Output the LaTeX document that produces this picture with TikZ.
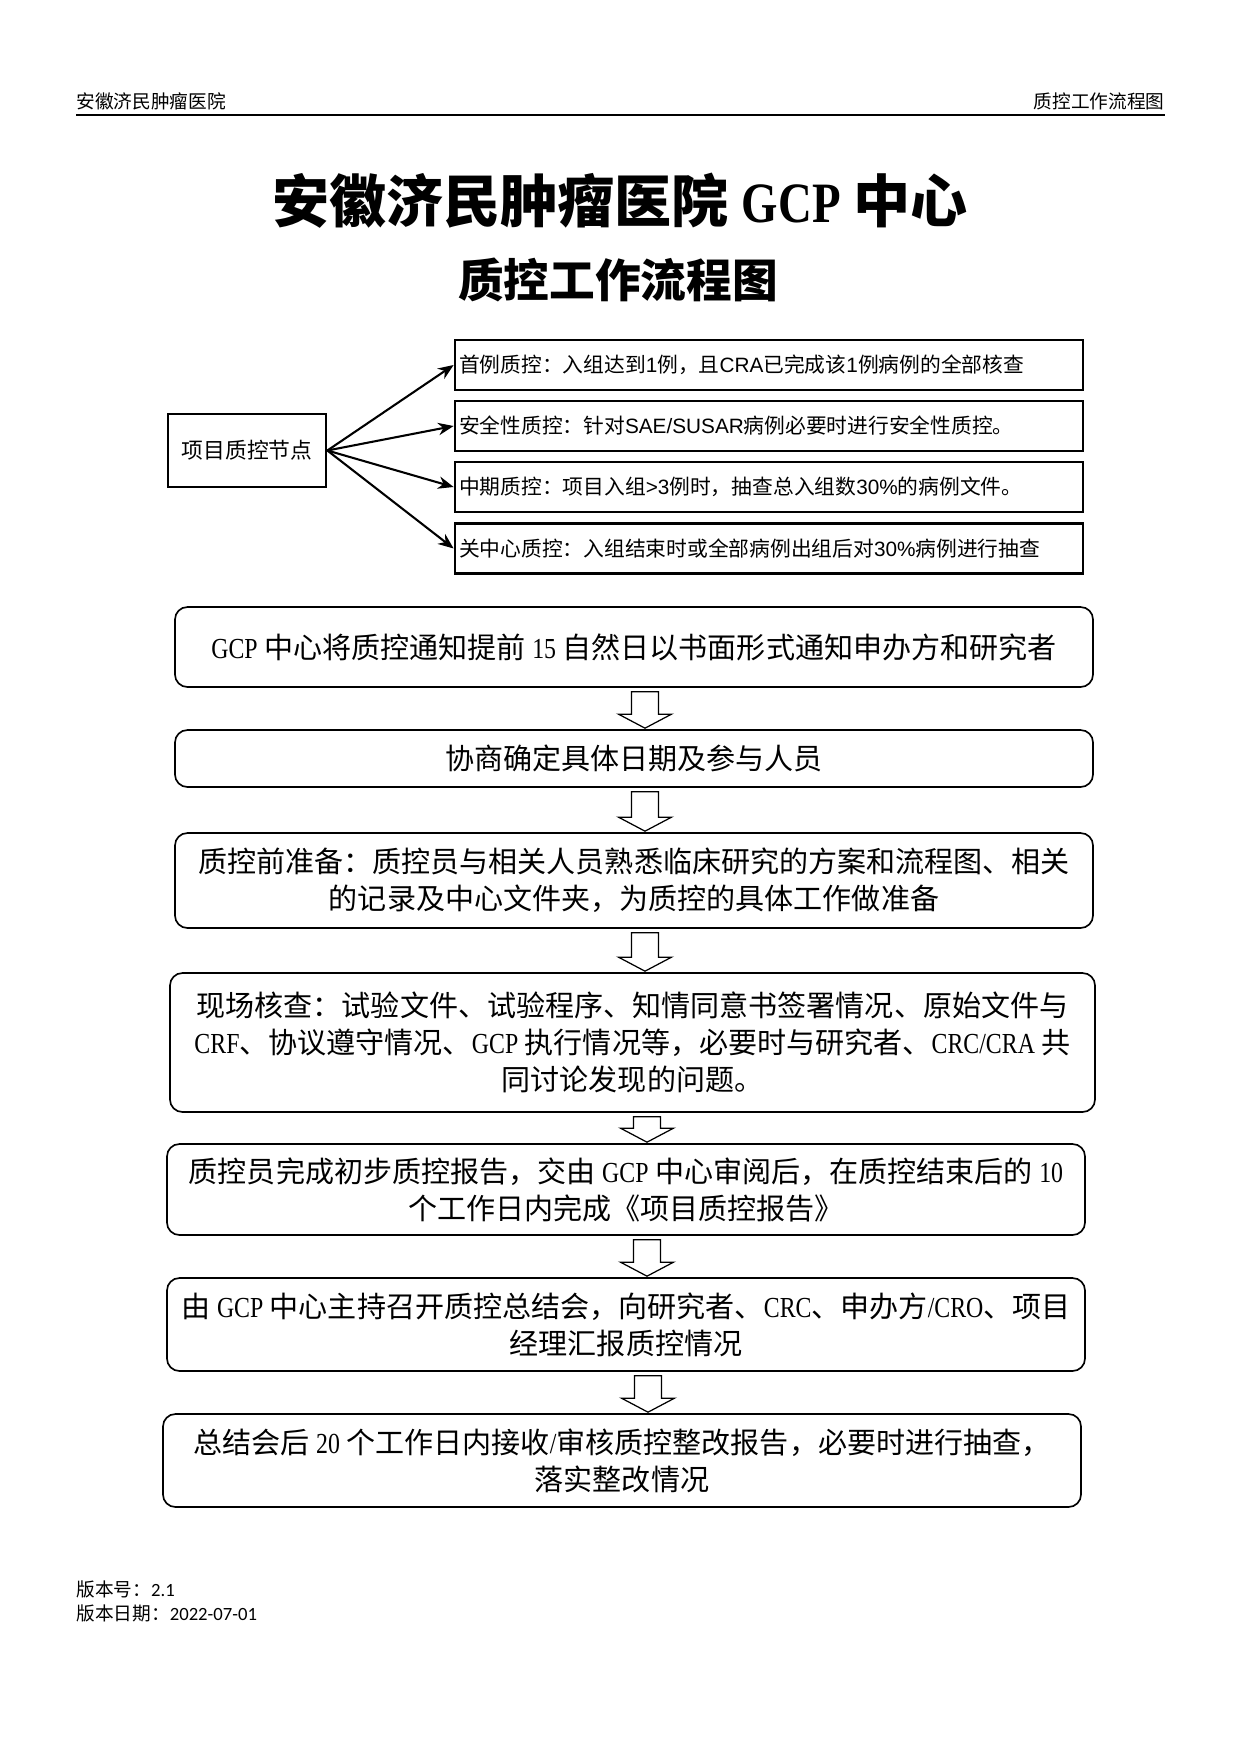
\documentclass[tikz,border=0pt]{standalone}
\usepackage{fontspec}
\setmainfont{Noto Sans CJK SC}
\newfontfamily\serifL[FakeStretch=0.82]{Liberation Serif}
\newfontfamily\sansL{Liberation Sans}
\newfontfamily\calibL{Carlito}
\usetikzlibrary{arrows.meta,calc}
\newcommand\rmn[1]{{\serifL #1}}
\newcommand\ssl[1]{{\sansL #1}}
\newcommand\cbl[1]{{\calibL #1}}
\newcommand\harrow[3]{%
  \draw[harr] ($(#1.south -| #3)+(-13.5,4)$) -- ($(#1.south -| #3)+(13.5,4)$)
    -- ($(#2.north -| #3)+(13.5,-15)$) -- ($(#2.north -| #3)+(26.5,-15)$)
    -- ($(#2.north -| #3)+(0,-1)$) -- ($(#2.north -| #3)+(-26.5,-15)$)
    -- ($(#2.north -| #3)+(-13.5,-15)$) -- cycle;}
\begin{document}
\begin{tikzpicture}[x=0.16933mm,y=-0.16933mm,
  hdr/.style={font=\fontsize{9}{11}\selectfont, inner sep=0pt},
  srcbox/.style={draw, line width=1.3pt, minimum width=158*0.16933mm, minimum height=73*0.16933mm,
    inner sep=0pt, font=\fontsize{10.5}{12}\selectfont},
  rbox/.style={draw, line width=1.3pt, minimum width=628*0.16933mm, minimum height=50*0.16933mm,
    text width=620*0.16933mm, align=left, inner xsep=4*0.16933mm, inner ysep=0pt,
    font=\fontsize{10}{12}\selectfont},
  flow/.style={draw, line width=0.8pt, rounded corners=6pt, fill=white, align=center,
    inner sep=0pt, font=\fontsize{14}{17.8}\selectfont},
  fan/.style={line width=1pt, -{Stealth[length=7.5pt,width=6pt]}},
  harr/.style={draw, line width=0.6pt, fill=white, line join=miter}
]
\useasboundingbox (0,0) rectangle (1241,1754);
% header
\node[hdr, anchor=base west] (hl) at (76,108) {安徽济民肿瘤医院};
\node[hdr, anchor=base east] (hr) at (1165,108) {质控工作流程图};
\coordinate (rl) at (76,115);
\coordinate (rr) at (1165,115);
\draw[line width=1pt] (rl) -- (rr);
% titles
\node[font=\fontsize{27.5}{32}\selectfont\bfseries] (title) at (620,201) {安徽济民肿瘤医院 \rmn{GCP} 中心};
\node[font=\fontsize{22}{26}\selectfont\bfseries] (sub) at (618,280) {质控工作流程图};
% fan section
\node[srcbox] (src) at (247,450.5) {项目质控节点};
\node[rbox] (r1) at (769,365) {首例质控：入组达到\ssl{1}例，且\ssl{CRA}已完成该\ssl{1}例病例的全部核查};
\node[rbox] (r2) at (769,426) {安全性质控：针对\ssl{SAE/SUSAR}病例必要时进行安全性质控。};
\node[rbox] (r3) at (769,487) {中期质控：项目入组\ssl{>3}例时，抽查总入组数\ssl{30\%}的病例文件。};
\node[rbox] (r4) at (769,548.5) {关中心质控：入组结束时或全部病例出组后对\ssl{30\%}病例进行抽查};
\foreach \i in {1,...,4} \draw[fan] (src.east) -- (r\i.west);
% flow boxes
\node[flow, minimum width=918*0.16933mm, minimum height=80*0.16933mm] (b1) at (634,647)
  {\rmn{GCP} 中心将质控通知提前 \rmn{15} 自然日以书面形式通知申办方和研究者};
\node[flow, minimum width=918*0.16933mm, minimum height=57*0.16933mm] (b2) at (634,758.5)
  {协商确定具体日期及参与人员};
\node[flow, minimum width=918*0.16933mm, minimum height=95*0.16933mm] (b3) at (634,880.5)
  {质控前准备：质控员与相关人员熟悉临床研究的方案和流程图、相关\\的记录及中心文件夹，为质控的具体工作做准备};
\node[flow, minimum width=925*0.16933mm, minimum height=139*0.16933mm] (b4) at (632.5,1042.5)
  {现场核查：试验文件、试验程序、知情同意书签署情况、原始文件与\\\rmn{CRF}、协议遵守情况、\rmn{GCP} 执行情况等，必要时与研究者、\rmn{CRC/CRA} 共\\同讨论发现的问题。};
\node[flow, minimum width=918*0.16933mm, minimum height=91*0.16933mm] (b5) at (626,1189.5)
  {质控员完成初步质控报告，交由 \rmn{GCP} 中心审阅后，在质控结束后的 \rmn{10}\\个工作日内完成《项目质控报告》};
\node[flow, minimum width=918*0.16933mm, minimum height=93*0.16933mm] (b6) at (626,1324.5)
  {由 \rmn{GCP} 中心主持召开质控总结会，向研究者、\rmn{CRC}、申办方\rmn{/CRO}、项目\\经理汇报质控情况};
\node[flow, minimum width=918*0.16933mm, minimum height=93*0.16933mm] (b7) at (622,1460.5)
  {总结会后 \rmn{20} 个工作日内接收\rmn{/}审核质控整改报告，必要时进行抽查，\\落实整改情况};
% hollow arrows
\coordinate (c1) at (645,0);
\coordinate (c2) at (647,0);
\coordinate (c3) at (648,0);
\harrow{b1}{b2}{c1}
\harrow{b2}{b3}{c1}
\harrow{b3}{b4}{c1}
\harrow{b4}{b5}{c2}
\harrow{b5}{b6}{c2}
\harrow{b6}{b7}{c3}
% footer
\node[hdr, anchor=west] (v1) at (76,1589) {版本号：\cbl{2.1}};
\node[hdr, anchor=west] (v2) at (76,1613) {版本日期：\cbl{2022-07-01}};
\end{tikzpicture}
\end{document}
